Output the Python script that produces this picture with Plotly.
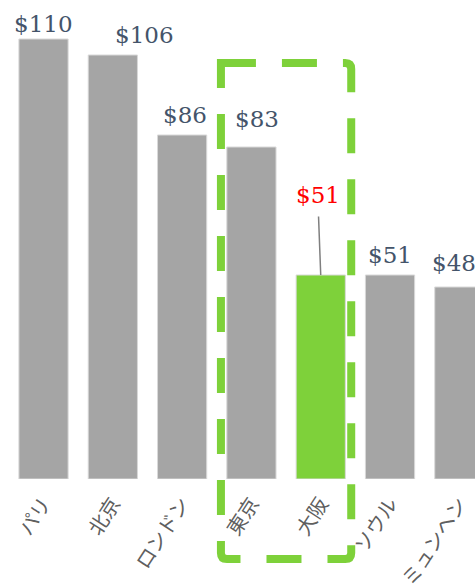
import plotly.graph_objects as go

cities = ["パリ", "北京", "ロンドン", "東京", "大阪", "ソウル", "ミュンヘン"]
values = [110, 106, 86, 83, 51, 51, 48]
highlight = "大阪"
box_cities = ["東京", "大阪"]

W, H = 475, 584
PLOT_H = 479
Y_MAX = 119.75
X_MIN, X_MAX = -0.628, 6.226

GRAY = "#a5a5a5"
GREEN = "#7ed13a"
SLATE = "#44546a"
LABEL_FONT = dict(family="DejaVu Serif", size=23)

# per-label nudges (pixels) to mimic the hand-placed value labels
label_nudge = {
    "パリ": (0, 0), "北京": (32, 5), "ロンドン": (3, 5), "東京": (6, 13),
    "ソウル": (0, 5), "ミュンヘン": (-5, 9),
}

bar_colors = [GREEN if c == highlight else GRAY for c in cities]

fig = go.Figure()
fig.add_trace(go.Bar(
    x=list(range(len(cities))), y=values,
    marker=dict(color=bar_colors, line=dict(color="#d9d9d9", width=1)),
    hoverinfo="skip",
))

for i, (c, v) in enumerate(zip(cities, values)):
    if c == highlight:
        continue
    dx, dy = label_nudge.get(c, (0, 5))
    fig.add_annotation(
        x=i, y=v, xref="x", yref="y", text=f"${v}", showarrow=False,
        yanchor="bottom", xanchor="center", xshift=dx, yshift=dy,
        font=dict(**LABEL_FONT, color=SLATE),
    )

hi = cities.index(highlight)
fig.add_annotation(
    x=hi, y=values[hi], xref="x", yref="y",
    text=f"${values[hi]}", showarrow=True, arrowhead=0, arrowwidth=1.5,
    arrowcolor="#7f7f7f", ax=-3, ay=-80, standoff=0, startstandoff=7,
    font=dict(**LABEL_FONT, color="#ff0000"),
)

# dashed highlight box around the selected categories
i0 = cities.index(box_cities[0]) - 0.44
i1 = cities.index(box_cities[1]) + 0.44
def xp(i):
    return (i - X_MIN) / (X_MAX - X_MIN)
def yp(v):
    return v / Y_MAX
x0, x1 = xp(i0), xp(i1)
y1, y0 = yp(104), yp(-20)
rx, ry = 6 / W, 6 / PLOT_H
path = (f"M{x0},{y1} H{x1 - rx} Q{x1},{y1} {x1},{y1 - ry} "
        f"V{y0 + ry} Q{x1},{y0} {x1 - rx},{y0} "
        f"H{x0 + rx} Q{x0},{y0} {x0},{y0 + ry} Z")
fig.add_shape(type="path", path=path, xref="paper", yref="paper",
              line=dict(color=GREEN, width=8, dash="35px,26px"),
              fillcolor="rgba(0,0,0,0)", layer="above")

fig.update_layout(
    width=W, height=H,
    margin=dict(l=0, r=0, t=0, b=H - PLOT_H, autoexpand=False),
    paper_bgcolor="white", plot_bgcolor="white",
    bargap=0.29, showlegend=False,
    xaxis=dict(
        tickmode="array", tickvals=list(range(len(cities))), ticktext=cities,
        range=[X_MIN, X_MAX], showgrid=False, zeroline=False, showline=False,
        tickangle=-57, ticklabelstandoff=8, automargin=False,
        tickfont=dict(family="Noto Sans CJK JP", size=20, color="#5f5f5f"),
        ticks="", fixedrange=True,
    ),
    yaxis=dict(range=[0, Y_MAX], visible=False, fixedrange=True, automargin=False),
)

fig.write_html("out.html")
